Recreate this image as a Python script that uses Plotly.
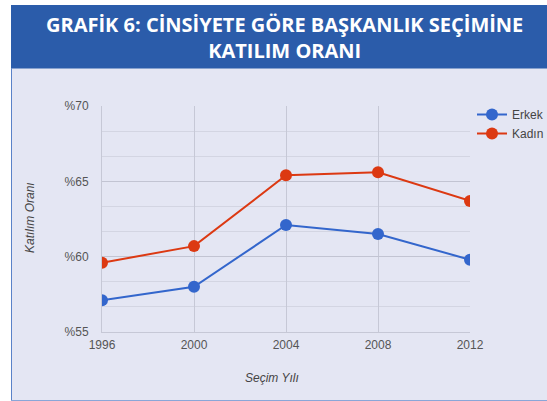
import plotly.graph_objects as go

years = [1996, 2000, 2004, 2008, 2012]
erkek = [57.1, 58.0, 62.1, 61.5, 59.8]
kadin = [59.6, 60.7, 65.4, 65.6, 63.7]
y_tick_vals = [55, 60, 65, 70]
y_tick_text = ["%55", "%60", "%65", "%70"]
x_tick_text = ["1996", "2000", "2004", "2008", "2012"]
title_text = "GRAFİK 6: CİNSİYETE GÖRE BAŞKANLIK SEÇİMİNE<br>KATILIM ORANI"

W, H = 547, 401
L, R, T, B = 102, 77, 106, 69
pw, ph = W - L - R, H - T - B

def px_x(px):
    return (px - L) / pw

def px_y(py):
    return (H - B - py) / ph

fig = go.Figure()
fig.add_trace(go.Scatter(x=years, y=erkek, name="Erkek", mode="lines+markers",
                         line=dict(color="#3366cc", width=2),
                         marker=dict(color="#3366cc", size=12)))
fig.add_trace(go.Scatter(x=years, y=kadin, name="Kadın", mode="lines+markers",
                         line=dict(color="#dc3912", width=2),
                         marker=dict(color="#dc3912", size=12)))

shapes = [
    # white outer margins (left strip, top strip)
    dict(type="rect", xref="paper", yref="paper", layer="below",
         x0=px_x(-5), x1=px_x(11), y0=px_y(410), y1=px_y(-5),
         fillcolor="white", line=dict(width=0)),
    dict(type="rect", xref="paper", yref="paper", layer="below",
         x0=px_x(-5), x1=px_x(560), y0=px_y(5), y1=px_y(-5),
         fillcolor="white", line=dict(width=0)),
    # left and bottom border of the box
    dict(type="line", xref="paper", yref="paper", layer="below",
         x0=px_x(11.5), x1=px_x(11.5), y0=px_y(400.5), y1=px_y(68.5),
         line=dict(color="#5a82c8", width=1)),
    dict(type="line", xref="paper", yref="paper", layer="below",
         x0=px_x(11), x1=px_x(560), y0=px_y(400.5), y1=px_y(400.5),
         line=dict(color="#8aa6d8", width=1)),
    # blue header band
    dict(type="rect", xref="paper", yref="paper", layer="below",
         x0=px_x(11), x1=px_x(560), y0=px_y(68.5), y1=px_y(5),
         fillcolor="#2b5caa", line=dict(width=0)),
]

fig.update_layout(
    width=W, height=H,
    margin=dict(l=L, r=R, t=T, b=B, autoexpand=False),
    paper_bgcolor="#e4e6f3",
    plot_bgcolor="rgba(0,0,0,0)",
    shapes=shapes,
    font=dict(family="Liberation Sans, Arial", color="#555555", size=12),
    annotations=[
        dict(text="<b>" + title_text + "</b>", xref="paper", yref="paper",
             x=px_x(284), y=px_y(37), xanchor="center", yanchor="middle",
             showarrow=False, align="center",
             font=dict(family="Open Sans", size=20, color="white")),
        dict(text="<i>Katılım Oranı</i>", xref="paper", yref="paper",
             x=px_x(30), y=px_y(218), xanchor="center", yanchor="middle",
             textangle=-90, showarrow=False,
             font=dict(family="Liberation Sans, Arial", size=12, color="#444444")),
        dict(text="<i>Seçim Yılı</i>", xref="paper", yref="paper",
             x=px_x(272), y=px_y(378), xanchor="center", yanchor="middle",
             showarrow=False,
             font=dict(family="Liberation Sans, Arial", size=12, color="#444444")),
    ],
    legend=dict(x=px_x(472), y=px_y(100), xanchor="left", yanchor="top",
                bgcolor="rgba(0,0,0,0)", font=dict(size=12, color="#444444"),
                itemwidth=30, tracegroupgap=2),
    showlegend=True,
)

fig.update_xaxes(range=[1996, 2012], tickvals=years, ticktext=x_tick_text,
                 showgrid=True, gridcolor="#c6c8d6", gridwidth=1,
                 zeroline=False, showline=True, linecolor="#c6c8d6",
                 ticks="", ticklabelstandoff=2, tickfont=dict(size=12, color="#555555"))
fig.update_yaxes(range=[55, 70], tickvals=y_tick_vals, ticktext=y_tick_text,
                 showgrid=True, gridcolor="#c2c4d2", gridwidth=1,
                 minor=dict(tick0=55, dtick=5/3, showgrid=True, gridcolor="#d3d5e2", gridwidth=1),
                 zeroline=False, showline=True, linecolor="#c6c8d6",
                 ticks="", ticklabelstandoff=10, tickfont=dict(size=12, color="#555555"))

fig.write_html("out.html", config={"displayModeBar": False},
               post_script=("document.documentElement.style.overflow='hidden';"
                            "document.body.style.margin='0';"
                            "document.body.style.overflow='hidden';"
                            "document.body.style.background='#e4e6f3';"))
